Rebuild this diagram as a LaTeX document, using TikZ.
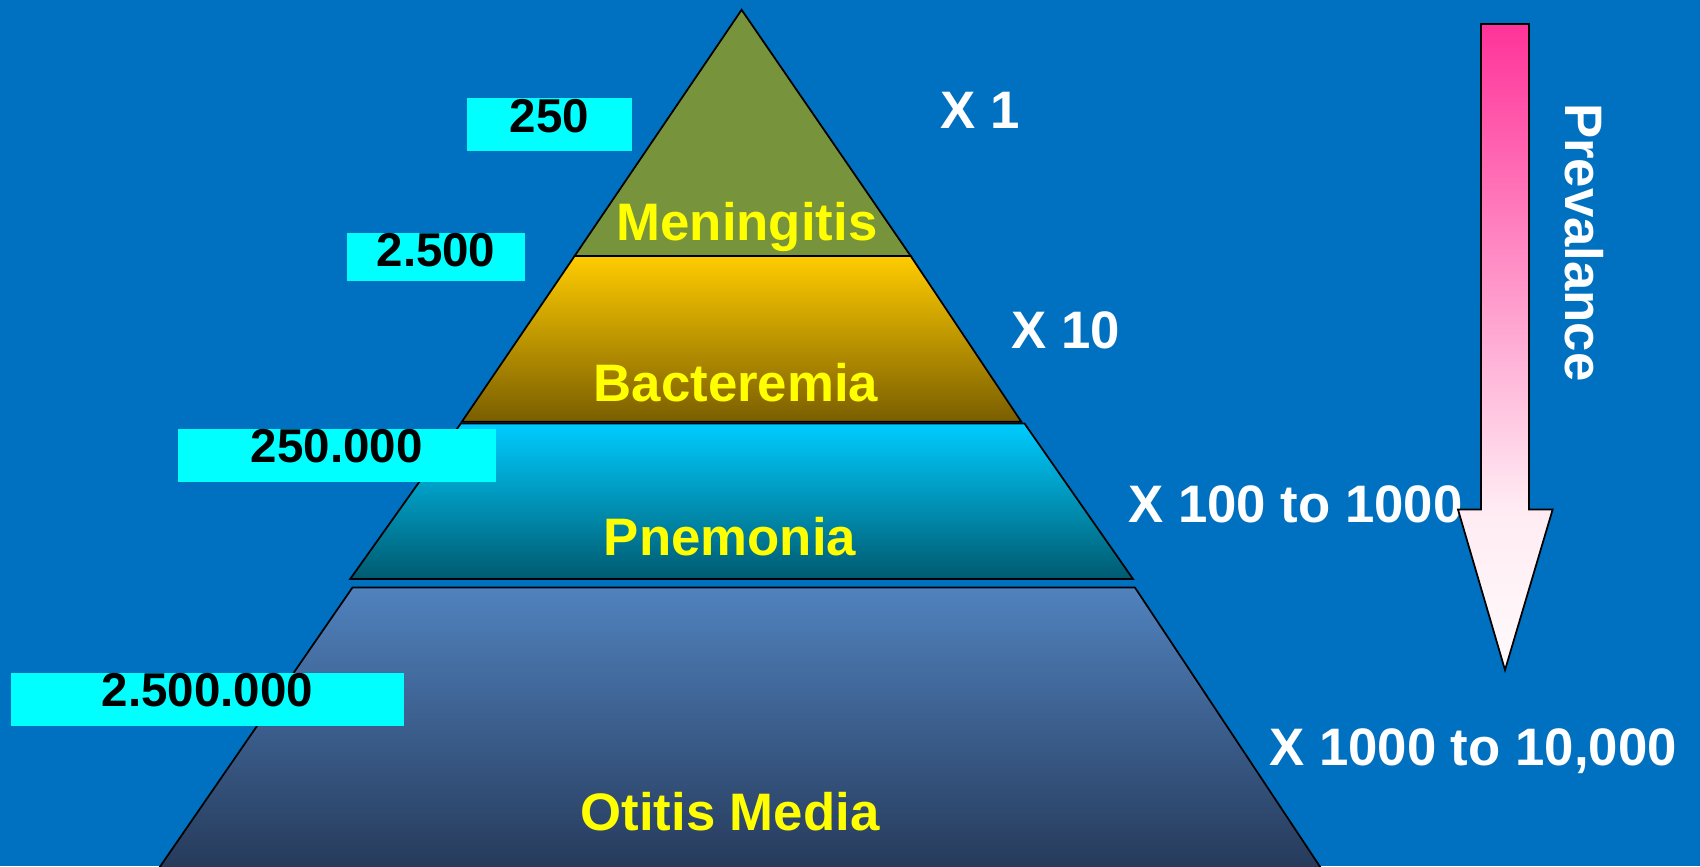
\documentclass[tikz,border=0pt]{standalone}
\usepackage{fontspec}
\setmainfont{Liberation Sans}
\usetikzlibrary{positioning}

\definecolor{slidebg}{RGB}{0,112,192}
\definecolor{meninFill}{RGB}{119,147,60}
\definecolor{bactTop}{RGB}{255,204,0}
\definecolor{bactBot}{RGB}{122,94,0}
\definecolor{pneuTop}{RGB}{0,204,255}
\definecolor{pneuBot}{RGB}{0,90,112}
\definecolor{otiTop}{RGB}{80,130,190}
\definecolor{otiBot}{RGB}{38,58,90}
\definecolor{arrTop}{RGB}{255,51,153}
\definecolor{arrMid}{RGB}{255,236,243}
\definecolor{arrBot}{RGB}{255,250,252}
\definecolor{countFill}{RGB}{0,255,255}
\definecolor{tierText}{RGB}{255,255,0}

\pgfdeclareverticalshading{prevshade}{100bp}{color(0bp)=(arrBot); color(25bp)=(arrBot);
  color(37.4bp)=(arrMid); color(75bp)=(arrTop); color(100bp)=(arrTop)}

\begin{document}
\begin{tikzpicture}[x=0.01cm, y=-0.01cm,
  layer/.style={draw=black, line width=0.5pt},
  tier/.style={font=\fontsize{15}{18}\selectfont\bfseries, text=tierText,
               anchor=base, inner sep=0pt},
  ratio/.style={font=\fontsize{15}{18}\selectfont\bfseries, text=white,
                anchor=base west, inner sep=0pt},
  count/.style={fill=countFill, font=\fontsize{13.5}{16}\selectfont\bfseries,
                anchor=north, inner sep=0pt, text height=9.7pt}
]
  \useasboundingbox (0,0) rectangle (1700,866);
  \fill[slidebg] (0,0) rectangle (1700,866);

  % Pyramid
  \filldraw[layer, fill=meninFill] (741.6,9.8) -- (910.7,256) -- (574.6,256) -- cycle;
  \shade[layer, top color=bactTop, bottom color=bactBot]
    (574.6,256) -- (910.7,256) -- (1021.3,421.7) -- (461.9,421.7) -- cycle;
  \shade[layer, top color=pneuTop, bottom color=pneuBot]
    (460.8,423.5) -- (1024.5,423.5) -- (1133,579) -- (350.2,579) -- cycle;
  \shade[layer, top color=otiTop, bottom color=otiBot]
    (352.4,587.6) -- (1135,587.6) -- (1322.2,870) -- (157.7,870) -- cycle;

  \node[tier] (mening) at (747,240) {Meningitis};
  \node[tier] (bact) at (736,401) {Bacteremia};
  \node[tier] (pneu) at (730,555) {Pnemonia};
  \node[tier] (otitis) at (730,830.5) {Otitis Media};

  % Case counts
  \node[count, minimum width=16.5mm, text depth=5.4pt] (c250) at (549.5,97.6) {250};
  \node[count, minimum width=17.8mm, text depth=4pt] (c2500) at (436,232) {2.500};
  \node[count, minimum width=31.75mm, text depth=5.4pt] (c250k) at (336.7,428) {250.000};
  \node[count, minimum width=39.3mm, text depth=5.4pt] (c2500k) at (207.5,672) {2.500.000};

  % Ratios
  \node[ratio] (x1) at (940,128) {X 1};
  \node[ratio] (x10) at (1010.5,348) {X 10};
  \node[ratio] (x100) at (1127.6,522.6) {X 100 to 1000};
  \node[ratio] (x1000) at (1268.5,765.4) {X 1000 to 10,000};

  % Prevalence arrow
  \shade[layer, shading=prevshade]
    (1481,24) -- (1529,24) -- (1529,509.6) -- (1552.6,509.6) -- (1505,670)
    -- (1458,509.6) -- (1481,509.6) -- cycle;
  \node[font=\fontsize{15}{18}\selectfont\bfseries, text=white, rotate=-90,
        inner sep=0pt] (prev) at (1584,242.3) {Prevalance};
\end{tikzpicture}
\end{document}
